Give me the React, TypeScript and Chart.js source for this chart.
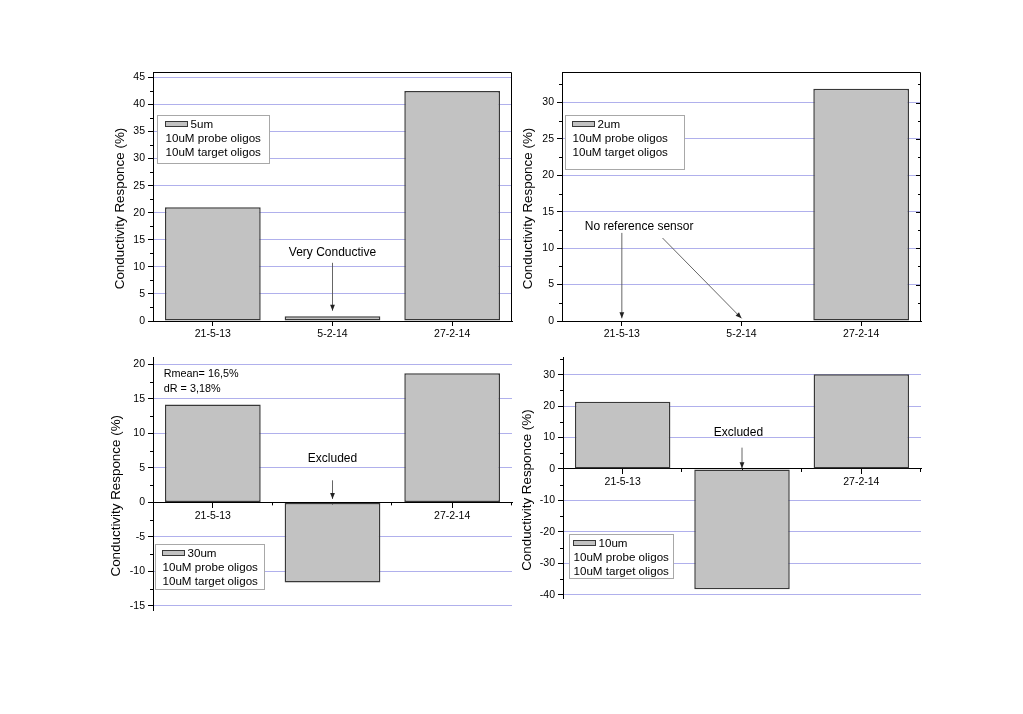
import React, { useEffect, useRef } from 'react';
import { Chart, registerables } from 'chart.js';

Chart.register(...registerables);

// ---------------- data ----------------
const categories = ['21-5-13', '5-2-14', '27-2-14'];
const series5um: (number | null)[] = [21.0, 0.9, 42.5];
const series2um: (number | null)[] = [null, null, 31.9];
const series30um: (number | null)[] = [14.2, -11.6, 18.7];
const series10um: (number | null)[] = [21.4, -38.3, 30.2];
const seriesNames = ['5um', '2um', '30um', '10um'];
const legendNotes = ['10uM probe oligos', '10uM target oligos'];
const yAxisTitle = 'Conductivity Responce (%)';
const yMins = [0, 0, -15.6, -41.2];
const yMaxs = [46, 34.2, 21, 35.4];
const ySteps = [5, 5, 5, 10];
const statsNotes = ['Rmean= 16,5%', 'dR = 3,18%'];

// annotations in data coordinates: [categoryIndex, value]
type Note = { text: string; at: [number, number]; align: CanvasTextAlign; arrows: number[][] };
const noteP1: Note = { text: 'Very Conductive', at: [1, 12.7], align: 'center', arrows: [[1, 10.75, 1, 1.9]] };
const noteP2: Note = {
  text: 'No reference sensor',
  at: [-0.31, 13.0],
  align: 'left',
  arrows: [
    [0, 12.1, 0, 0.37],
    [0.34, 11.4, 1, 0.37],
  ],
};
const noteP3: Note = { text: 'Excluded', at: [1, 6.3], align: 'center', arrows: [[1, 3.2, 1, 0.5]] };
const noteP4: Note = { text: 'Excluded', at: [0.97, 11.7], align: 'center', arrows: [[1, 6.8, 1, 0.2]] };
const statsAt: [number, number][] = [
  [-0.41, 18.55],
  [-0.41, 16.5],
];

// ---------------- styling / layout ----------------
const FONT = "'Liberation Sans', Arial, Helvetica, sans-serif";
const BAR_FILL = '#c2c2c2';
const BAR_EDGE = '#383838';
const GRID = '#b0b0ec';

type Panel = {
  key: string;
  data: (number | null)[];
  name: string;
  idx: number;
  canvas: { x: number; y: number; w: number; h: number };
  area: { l: number; t: number; r: number; b: number };
  framed: boolean;
  rightTicks: boolean;
  xAtZero: boolean;
  titleDx: number;
  legend: { dx: number; dy: number; w: number; h: number; pad: number };
  note: Note;
  stats: boolean;
};

const panels: Panel[] = [
  {
    key: 'p1', data: series5um, name: seriesNames[0], idx: 0,
    canvas: { x: 95, y: 55, w: 420, h: 300 },
    area: { l: 153, t: 72, r: 512, b: 321 },
    framed: true, rightTicks: false, xAtZero: false, titleDx: -32.8,
    legend: { dx: 4, dy: 42.6, w: 112, h: 48.4, pad: 7.5 }, note: noteP1, stats: false,
  },
  {
    key: 'p2', data: series2um, name: seriesNames[1], idx: 1,
    canvas: { x: 515, y: 55, w: 420, h: 300 },
    area: { l: 562, t: 72, r: 921, b: 321 },
    framed: true, rightTicks: true, xAtZero: false, titleDx: -33.3,
    legend: { dx: 2.7, dy: 43.3, w: 119, h: 54, pad: 6 }, note: noteP2, stats: false,
  },
  {
    key: 'p3', data: series30um, name: seriesNames[2], idx: 2,
    canvas: { x: 95, y: 355, w: 420, h: 270 },
    area: { l: 153, t: 357.5, r: 512, b: 610 },
    framed: false, rightTicks: false, xAtZero: true, titleDx: -36.3,
    legend: { dx: 1.7, dy: 186.5, w: 109, h: 45, pad: 6.5 }, note: noteP3, stats: true,
  },
  {
    key: 'p4', data: series10um, name: seriesNames[3], idx: 3,
    canvas: { x: 515, y: 355, w: 420, h: 270 },
    area: { l: 563, t: 357.8, r: 921, b: 598.4 },
    framed: false, rightTicks: false, xAtZero: true, titleDx: -35.2,
    legend: { dx: 5.6, dy: 176.5, w: 104, h: 44, pad: 3.5 }, note: noteP4, stats: false,
  },
];

function line(ctx: CanvasRenderingContext2D, x1: number, y1: number, x2: number, y2: number) {
  ctx.beginPath();
  ctx.moveTo(x1, y1);
  ctx.lineTo(x2, y2);
  ctx.stroke();
}

function arrow(ctx: CanvasRenderingContext2D, x1: number, y1: number, x2: number, y2: number) {
  ctx.strokeStyle = '#555';
  ctx.lineWidth = 0.9;
  line(ctx, x1, y1, x2, y2);
  const ang = Math.atan2(y2 - y1, x2 - x1);
  const len = 6;
  const hw = 2.4;
  ctx.fillStyle = '#222';
  ctx.beginPath();
  ctx.moveTo(x2, y2);
  ctx.lineTo(x2 - len * Math.cos(ang) + hw * Math.sin(ang), y2 - len * Math.sin(ang) - hw * Math.cos(ang));
  ctx.lineTo(x2 - len * Math.cos(ang) - hw * Math.sin(ang), y2 - len * Math.sin(ang) + hw * Math.cos(ang));
  ctx.closePath();
  ctx.fill();
}

function makeExtras(p: Panel) {
  const min = yMins[p.idx];
  const max = yMaxs[p.idx];
  const step = ySteps[p.idx];
  return {
    id: 'extras_' + p.key,
    afterDraw(chart: any) {
      const ctx: CanvasRenderingContext2D = chart.ctx;
      const a = chart.chartArea;
      const xs = chart.scales.x;
      const ys = chart.scales.y;
      ctx.save();
      ctx.strokeStyle = '#000';
      ctx.lineWidth = 1;
      // frame
      if (p.framed) {
        ctx.beginPath();
        ctx.moveTo(a.left, Math.round(a.top) + 0.5);
        ctx.lineTo(Math.round(a.right) - 0.5, Math.round(a.top) + 0.5);
        ctx.lineTo(Math.round(a.right) - 0.5, a.bottom);
        ctx.stroke();
      }
      // minor y ticks
      const k0 = Math.floor(min / step) - 1;
      const k1 = Math.ceil(max / step) + 1;
      for (let k = k0; k <= k1; k++) {
        const v = k * step + step / 2;
        if (v < min || v > max) continue;
        const y = Math.round(ys.getPixelForValue(v)) + 0.5;
        line(ctx, a.left - 3, y, a.left, y);
        if (p.rightTicks) line(ctx, a.right, y, a.right - 3, y);
      }
      if (p.rightTicks) {
        ys.ticks.forEach((t: any) => {
          const y = Math.round(ys.getPixelForValue(t.value)) + 0.5;
          line(ctx, a.right, y, a.right - 5, y);
        });
      }
      // minor x ticks at category boundaries
      if (p.xAtZero) {
        const y0 = ys.getPixelForValue(0);
        [0.5, 1.5, 2.5].forEach((i) => {
          const x = Math.round(xs.getPixelForValue(i)) - 0.5;
          line(ctx, x, y0, x, y0 + 3);
        });
      }
      // y axis title
      ctx.save();
      ctx.translate(a.left + p.titleDx, (a.top + a.bottom) / 2 + 12);
      ctx.rotate(-Math.PI / 2);
      ctx.fillStyle = '#000';
      ctx.font = `13.4px ${FONT}`;
      ctx.textAlign = 'center';
      ctx.textBaseline = 'middle';
      ctx.fillText(yAxisTitle, 0, 0);
      ctx.restore();
      // legend
      const L = p.legend;
      const bx = Math.round(a.left + L.dx) + 0.5;
      const by = Math.round(a.top + L.dy) + 0.5;
      ctx.fillStyle = '#fff';
      ctx.fillRect(bx, by, L.w, L.h);
      ctx.strokeStyle = '#a8a8a8';
      ctx.lineWidth = 1;
      ctx.strokeRect(bx, by, Math.round(L.w), Math.round(L.h));
      const sx = Math.round(bx + L.pad) + 0.5;
      ctx.fillStyle = BAR_FILL;
      ctx.fillRect(sx, by + 6, 22, 5);
      ctx.strokeStyle = BAR_EDGE;
      ctx.strokeRect(sx, by + 6, 22, 5);
      ctx.fillStyle = '#000';
      ctx.font = `11.6px ${FONT}`;
      ctx.textAlign = 'left';
      ctx.textBaseline = 'middle';
      ctx.fillText(p.name, sx + 25, by + 9);
      ctx.fillText(legendNotes[0], sx, by + 23.5);
      ctx.fillText(legendNotes[1], sx, by + 37.5);
      // annotation
      const n = p.note;
      ctx.font = `12px ${FONT}`;
      ctx.textAlign = n.align;
      ctx.fillText(n.text, xs.getPixelForValue(n.at[0]), ys.getPixelForValue(n.at[1]));
      n.arrows.forEach((ar) => {
        arrow(
          ctx,
          xs.getPixelForValue(ar[0]),
          ys.getPixelForValue(ar[1]),
          xs.getPixelForValue(ar[2]),
          ys.getPixelForValue(ar[3])
        );
      });
      if (p.stats) {
        ctx.fillStyle = '#000';
        ctx.font = `10.8px ${FONT}`;
        ctx.textAlign = 'left';
        statsNotes.forEach((s, i) => {
          ctx.fillText(s, xs.getPixelForValue(statsAt[i][0]), ys.getPixelForValue(statsAt[i][1]));
        });
      }
      ctx.restore();
    },
  };
}

function PanelChart({ p }: { p: Panel }) {
  const ref = useRef<HTMLCanvasElement | null>(null);
  useEffect(() => {
    if (!ref.current) return;
    const c = p.canvas;
    const a = p.area;
    const yWidth = a.l - c.x;
    const padTop = a.t - c.y;
    const padRight = c.x + c.w - a.r;
    const xHeight = p.xAtZero ? 0 : c.y + c.h - a.b;
    const padBottom = p.xAtZero ? c.y + c.h - a.b : 0;
    const chart = new Chart(ref.current, {
      type: 'bar',
      data: {
        labels: categories,
        datasets: [
          {
            label: p.name,
            data: p.data,
            backgroundColor: BAR_FILL,
            borderColor: BAR_EDGE,
            borderWidth: 1.5,
            borderSkipped: false,
            categoryPercentage: 1,
            barPercentage: 0.8,
          },
        ],
      },
      options: {
        animation: false,
        responsive: false,
        maintainAspectRatio: false,
        devicePixelRatio: 1,
        layout: { padding: { top: padTop, right: padRight, bottom: padBottom, left: 0 } },
        plugins: {
          legend: { display: false },
          tooltip: { enabled: false },
          title: { display: false },
        },
        scales: {
          x: {
            type: 'category',
            offset: true,
            position: p.xAtZero ? ({ y: 0 } as any) : 'bottom',
            grid: {
              display: true,
              drawOnChartArea: false,
              drawTicks: true,
              tickLength: 5,
              tickColor: '#000',
              offset: false,
            },
            border: { display: true, color: '#000', width: 1 },
            ticks: {
              color: '#000',
              font: { family: FONT, size: 10.5 },
              padding: 2,
              maxRotation: 0,
              autoSkip: false,
            },
            afterFit: (s: any) => {
              s.height = xHeight;
              s.paddingLeft = 0;
              s.paddingRight = 0;
            },
          },
          y: {
            type: 'linear',
            min: yMins[p.idx],
            max: yMaxs[p.idx],
            ticks: {
              stepSize: ySteps[p.idx],
              includeBounds: false,
              color: '#000',
              font: { family: FONT, size: 10.5 },
              padding: 3,
            },
            grid: {
              color: (ctx: any) => (ctx.tick && ctx.tick.value === 0 ? 'rgba(0,0,0,0)' : GRID),
              tickColor: '#000',
              tickLength: 5,
              drawTicks: true,
              lineWidth: 1,
            },
            border: { display: true, color: '#000', width: 1 },
            afterFit: (s: any) => {
              s.width = yWidth;
              s.paddingTop = 0;
              s.paddingBottom = 0;
            },
          },
        },
      } as any,
      plugins: [makeExtras(p)],
    });
    return () => chart.destroy();
  }, [p]);
  return (
    <div style={{ position: 'absolute', left: p.canvas.x, top: p.canvas.y, width: p.canvas.w, height: p.canvas.h }}>
      <canvas ref={ref} width={p.canvas.w} height={p.canvas.h} style={{ width: p.canvas.w, height: p.canvas.h, display: 'block' }} />
    </div>
  );
}

export default function App() {
  return (
    <div style={{ position: 'absolute', left: 0, top: 0, width: 1023, height: 714, background: '#fff', overflow: 'hidden' }}>
      {panels.map((p) => (
        <PanelChart key={p.key} p={p} />
      ))}
    </div>
  );
}
